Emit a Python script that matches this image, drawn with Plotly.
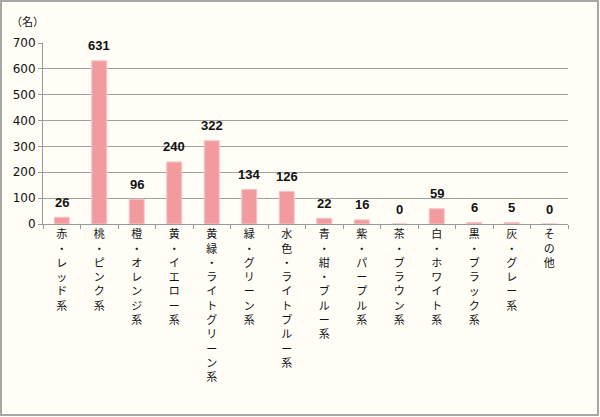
import plotly.graph_objects as go

categories = ["赤・レッド系", "桃・ピンク系", "橙・オレンジ系", "黄・イエロー系", "黄緑・ライトグリーン系",
              "緑・グリーン系", "水色・ライトブルー系", "青・紺・ブルー系", "紫・パープル系", "茶・ブラウン系",
              "白・ホワイト系", "黒・ブラック系", "灰・グレー系", "その他"]
values = [26, 631, 96, 240, 322, 134, 126, 22, 16, 0, 59, 6, 5, 0]
y_ticks = [0, 100, 200, 300, 400, 500, 600, 700]
unit_label = "（名）"

vertical_labels = ["<br>".join(list(c)) for c in categories]

W, H = 600, 417
L, R, T, B = 43, 32, 43, 193
pw, ph = W - L - R, H - T - B

def px_x(p):
    return (p - L) / pw

def px_y(p):
    return (H - B - p) / ph

fig = go.Figure()
fig.add_trace(go.Bar(
    x=categories, y=values,
    marker=dict(color="#F29B9F", line=dict(color="#F7C4C6", width=1)),
    hoverinfo="x+y",
))

annotations = [dict(text=unit_label, xref="paper", yref="paper",
                    x=px_x(27), y=px_y(21), xanchor="center", yanchor="middle",
                    showarrow=False,
                    font=dict(size=11, family="Noto Sans CJK JP", color="#111111"))]
for c, v in zip(categories, values):
    annotations.append(dict(
        x=c, y=v, xref="x", yref="y", text=str(v), showarrow=False,
        xanchor="center", yanchor="middle", yshift=15,
        font=dict(family="Liberation Sans", size=13, color="#111111", weight="bold"),
    ))

fig.update_layout(
    width=W, height=H,
    margin=dict(l=L, r=R, t=T, b=B, autoexpand=False),
    paper_bgcolor="#FFFDF6", plot_bgcolor="#FFFDF6",
    bargap=0.6, showlegend=False,
    font=dict(family="Noto Sans CJK JP", color="#111111"),
    xaxis=dict(
        tickmode="array", tickvals=categories, ticktext=vertical_labels,
        tickangle=0, tickfont=dict(size=11, family="DejaVu Sans, Noto Sans CJK JP"),
        showline=True, linecolor="#999999", linewidth=1,
        ticks="outside", tickson="boundaries", ticklen=4, tickcolor="#999999",
        showgrid=False,
    ),
    yaxis=dict(
        range=[0, 700], tickvals=y_ticks,
        tickfont=dict(size=12, family="DejaVu Sans"),
        showgrid=True, gridcolor="#A0A0A0", gridwidth=1,
        showline=True, linecolor="#999999", linewidth=1,
        ticks="outside", ticklen=4, tickcolor="#999999",
        zeroline=False,
    ),
    shapes=[dict(type="rect", xref="paper", yref="paper",
                 x0=px_x(1), x1=px_x(598), y0=px_y(415), y1=px_y(1),
                 line=dict(color="#A6A6A6", width=2), layer="below")],
    annotations=annotations,
)

fig.write_html("out.html", config={"displayModeBar": False},
               post_script="document.body.style.margin='0';document.body.style.overflow='hidden';")
